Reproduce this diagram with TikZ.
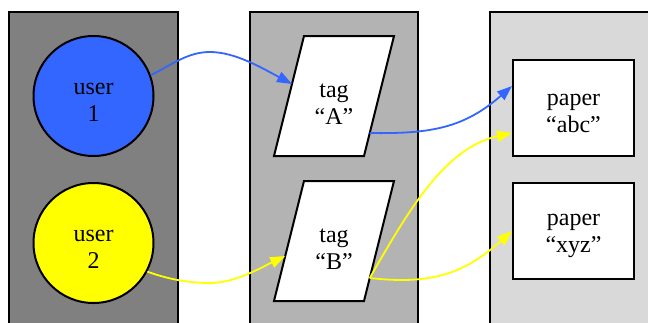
\documentclass[tikz,border=0pt]{standalone}
\usepackage{fontspec}
\setmainfont{Liberation Serif}
\usetikzlibrary{calc,arrows.meta}
\definecolor{ublue}{RGB}{51,102,255}
\definecolor{uyellow}{RGB}{255,255,0}
\definecolor{colA}{RGB}{128,128,128}
\definecolor{colB}{RGB}{179,179,179}
\definecolor{colC}{RGB}{217,217,217}
\begin{document}
\begin{tikzpicture}[x=1pt,y=-1pt,
  colbox/.style={draw=black,line width=2pt},
  txt/.style={align=center,font=\fontsize{24}{27}\selectfont,inner sep=0pt},
  userc/.style={circle,draw=black,line width=2pt,minimum size=120pt,inner sep=0pt},
  paperbox/.style={rectangle,draw=black,line width=2pt,fill=white,minimum width=121pt,minimum height=96pt,inner sep=0pt},
  tagshape/.style={draw=black,line width=2pt,fill=white,line join=miter},
  link/.style={line width=1.8pt,-{Triangle[length=15pt,width=11pt]}}]
\useasboundingbox (0,0) rectangle (648,322);
\clip (0,0) rectangle (648,322);
% columns
\draw[colbox,fill=colA] (9,12) rectangle (178,340);
\draw[colbox,fill=colB] (250,12) rectangle (418,340);
\draw[colbox,fill=colC] (490,12) rectangle (660,340);
% users
\node[userc,fill=ublue] (user1) at (93.5,96) {};
\node[userc,fill=uyellow] (user2) at (93.5,243) {};
\node[txt] (user1t) at ($(user1)+(0,6)$) {user\\1};
\node[txt] (user2t) at ($(user2)+(0,6)$) {user\\2};
% tags
\coordinate (cA) at (334,96);
\coordinate (cB) at (334,241);
\draw[tagshape] ($(cA)+(-30,-60)$) -- ($(cA)+(60,-60)$) -- ($(cA)+(30,60)$) -- ($(cA)+(-60,60)$) -- cycle;
\draw[tagshape] ($(cB)+(-30,-60)$) -- ($(cB)+(60,-60)$) -- ($(cB)+(30,60)$) -- ($(cB)+(-60,60)$) -- cycle;
\node[txt] (tagA) at ($(cA)+(0,8)$) {tag\\“A”};
\node[txt] (tagB) at ($(cB)+(0,8)$) {tag\\“B”};
\coordinate (tagAin) at ($(cA)+(-42,-12)$);
\coordinate (tagAout) at ($(cA)+(35.75,37)$);
\coordinate (tagBin) at ($(cB)+(-48.75,15)$);
\coordinate (tagBout) at ($(cB)+(35.75,37)$);
% papers
\node[paperbox] (abc) at (573.5,108) {};
\node[paperbox] (xyz) at (573.5,231) {};
\node[txt] (abct) at ($(abc)+(0,5)$) {paper\\“abc”};
\node[txt] (xyzt) at ($(xyz)+(0,5)$) {paper\\“xyz”};
\coordinate (abcinA) at ($(abc.west)+(0,-22)$);
\coordinate (abcinB) at ($(abc.west)+(0,25)$);
% links
\draw[link,ublue] (user1.20) .. controls +(22,-11) and +(-22,0) .. (210,52)
   .. controls +(25,0) and +(-30,-16) .. (tagAin);
\draw[link,ublue] (tagAout) .. controls +(61,1) and +(-48,42) .. (abcinA);
\draw[link,uyellow] (user2.-28) .. controls +(22,8) and +(-20,0) .. (210,283)
   .. controls +(25,0) and +(-25,12) .. (tagBin);
\draw[link,uyellow] (tagBout) .. controls +(38,-66) and +(-68,15) .. (abcinB);
\draw[link,uyellow] (tagBout) .. controls +(61,7) and +(-48,43) .. (xyz.west);
\end{tikzpicture}
\end{document}
